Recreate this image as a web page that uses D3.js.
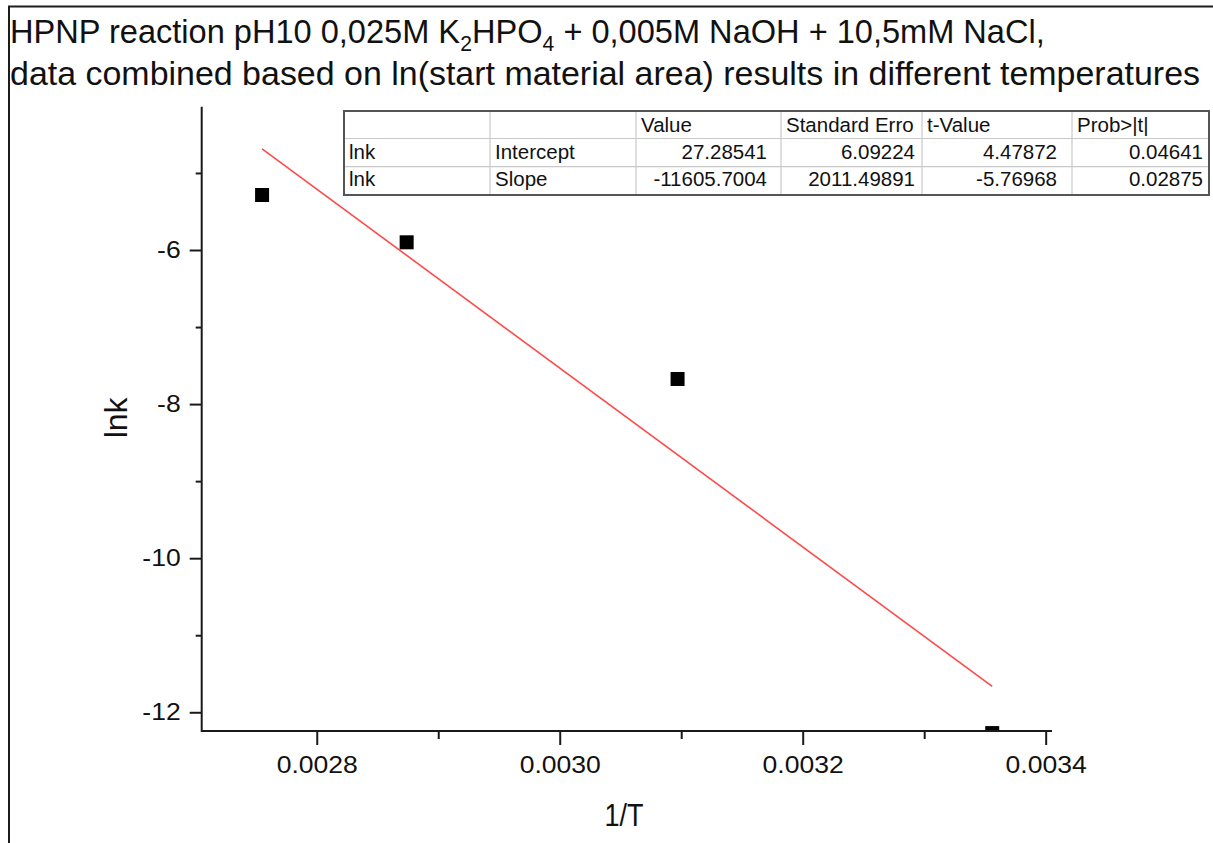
<!DOCTYPE html>
<html>
<head>
<meta charset="utf-8">
<script src="https://cdn.jsdelivr.net/npm/d3@7"></script>
<style>
  html, body { margin: 0; padding: 0; background: #fff; }
  svg { display: block; }
  text { font-family: "Liberation Sans", Arial, sans-serif; fill: #111; }
</style>
</head>
<body>
<svg id="chart" width="1213" height="843"></svg>
<script>
// Arrhenius data: 1/T (K^-1) against ln k
const invT = [0.002755, 0.002874, 0.003097, 0.003356];
const lnk = [-5.286, -5.90, -7.674, -12.27];

// Linear fit statistics: Value, Standard Error, t-Value, Prob>|t|
const statHeader = ["", "", "Value", "Standard Erro", "t-Value", "Prob>|t|"];
const interceptStats = [27.28541, 6.09224, 4.47872, 0.04641];
const slopeStats = [-11605.7004, 2011.49891, -5.76968, 0.02875];

// Axis ticks
const xMajor = [0.0028, 0.0030, 0.0032, 0.0034];
const xMinor = [0.0029, 0.0031, 0.0033];
const yMajor = [-6, -8, -10, -12];
const yMinor = [-5, -7, -9, -11];

// Title: first line as [text, isSubscript] pieces, second line plain
const titleLine1 = [
  ["HPNP reaction pH10 0,025M K", false], ["2", true], ["HPO", false], ["4", true],
  [" + 0,005M NaOH + 10,5mM NaCl,", false]
];
const titleLine2 = "data combined based on ln(start material area) results in different temperatures";

const svg = d3.select("#chart");
const plotLeft = 201.7, plotRight = 1052, plotTop = 106.7, plotBottom = 731;

const x = d3.scaleLinear().domain([0.0027053, 0.0034052]).range([plotLeft, plotRight]);
const y = d3.scaleLinear().domain([-12.243, -4.140]).range([plotBottom, plotTop]);

// window frame edges
svg.append("path")
  .attr("d", "M9,843 V6.5 H1213")
  .attr("fill", "none").attr("stroke", "#1c1c1c").attr("stroke-width", 2);

// title line 1: pieces laid out one after another, then fitted to width
const t1 = svg.append("g");
let cursor = 0;
titleLine1.forEach(([txt, sub]) => {
  const node = t1.append("text")
    .attr("x", cursor).attr("y", sub ? 51 : 43)
    .style("font-size", sub ? "22px" : "34px")
    .style("white-space", "pre")
    .text(txt).node();
  cursor += node.getComputedTextLength();
});
t1.attr("transform", `translate(10,0) scale(${1035 / cursor},1)`);

svg.append("text").attr("x", 10).attr("y", 85).style("font-size", "34px")
  .attr("textLength", 1190).attr("lengthAdjust", "spacingAndGlyphs")
  .text(titleLine2);

// clip region for plotted marks
svg.append("clipPath").attr("id", "plotClip")
  .append("rect").attr("x", plotLeft).attr("y", plotTop)
  .attr("width", plotRight - plotLeft).attr("height", plotBottom - plotTop);

const plot = svg.append("g").attr("clip-path", "url(#plotClip)");

// fitted line lnk = intercept + slope * (1/T)
const a = interceptStats[0], b = slopeStats[0];
const xFit = d3.extent(invT);
plot.append("line")
  .attr("x1", x(xFit[0])).attr("y1", y(a + b * xFit[0]))
  .attr("x2", x(xFit[1])).attr("y2", y(a + b * xFit[1]))
  .attr("stroke", "#ff4a4a").attr("stroke-width", 1.6);

// data points
const ms = 14;
plot.selectAll("rect.pt").data(invT.map((v, i) => [v, lnk[i]])).join("rect")
  .attr("class", "pt")
  .attr("x", d => x(d[0]) - ms / 2).attr("y", d => y(d[1]) - ms / 2)
  .attr("width", ms).attr("height", ms).attr("fill", "#000");

// axes
const axisColor = "#1a1a1a";
const stretch = 1.13;  // wide tick-label glyphs
function styleAxis(g) {
  g.select(".domain").remove();
  g.selectAll("line").attr("stroke", axisColor).attr("stroke-width", 2);
  g.selectAll("text").style("font-size", "23.5px").attr("fill", "#111");
}

svg.append("g").attr("transform", `translate(0,${plotBottom})`)
  .call(d3.axisBottom(x).tickValues(xMajor).tickSize(14).tickFormat(d3.format(".4f")))
  .call(styleAxis)
  .call(g => g.selectAll("text").attr("y", 42).attr("dy", null)
    .attr("transform", `scale(${stretch},1)`));
svg.append("g").attr("transform", `translate(0,${plotBottom})`)
  .call(d3.axisBottom(x).tickValues(xMinor).tickSize(8).tickFormat(""))
  .call(styleAxis);

svg.append("g").attr("transform", `translate(${plotLeft},0)`)
  .call(d3.axisLeft(y).tickValues(yMajor).tickSize(12).tickFormat(d => String(d)))
  .call(styleAxis)
  .call(g => g.selectAll("text").attr("x", -21 / stretch)
    .attr("transform", `scale(${stretch},1)`));
svg.append("g").attr("transform", `translate(${plotLeft},0)`)
  .call(d3.axisLeft(y).tickValues(yMinor).tickSize(6).tickFormat(""))
  .call(styleAxis);

// axis lines
svg.append("path")
  .attr("d", `M${plotLeft},${plotTop} V${plotBottom} H${plotRight}`)
  .attr("fill", "none").attr("stroke", axisColor).attr("stroke-width", 2);

// axis titles
svg.append("text").attr("x", 624).attr("y", 826)
  .attr("text-anchor", "middle").style("font-size", "31px")
  .attr("textLength", 39).attr("lengthAdjust", "spacingAndGlyphs").text("1/T");
svg.append("text").attr("transform", `translate(127,${(plotTop + plotBottom) / 2 - 1}) rotate(-90)`)
  .attr("text-anchor", "middle").style("font-size", "32px").text("lnk");

// statistics table
const colX = [344, 490, 636, 781, 922, 1072, 1209];
const rowY = [111, 138.5, 166.7, 195];
const numPad = [14, 7, 15, 6];
const tbl = svg.append("g");
const tableRows = [
  statHeader,
  ["lnk", "Intercept", ...interceptStats.map(String)],
  ["lnk", "Slope", ...slopeStats.map(String)]
];
// inner grid
colX.slice(1, -1).forEach(cx => tbl.append("line")
  .attr("x1", cx).attr("x2", cx).attr("y1", rowY[0]).attr("y2", rowY[3])
  .attr("stroke", "#c8c8c8").attr("stroke-width", 1.2));
rowY.slice(1, -1).forEach(ry => tbl.append("line")
  .attr("x1", colX[0]).attr("x2", colX[6]).attr("y1", ry).attr("y2", ry)
  .attr("stroke", "#c8c8c8").attr("stroke-width", 1.2));
tbl.append("rect")
  .attr("x", colX[0]).attr("y", rowY[0])
  .attr("width", colX[6] - colX[0]).attr("height", rowY[3] - rowY[0])
  .attr("fill", "none").attr("stroke", "#555").attr("stroke-width", 2);

const baseOff = [20.5, 20, 19.5];
tableRows.forEach((row, ri) => {
  row.forEach((cell, ci) => {
    if (!cell) return;
    const numeric = ri > 0 && ci >= 2;
    tbl.append("text")
      .attr("x", numeric ? colX[ci + 1] - numPad[ci - 2] : colX[ci] + 5)
      .attr("y", rowY[ri] + baseOff[ri])
      .attr("text-anchor", numeric ? "end" : "start")
      .style("font-size", "20.5px")
      .text(cell);
  });
});
</script>
</body>
</html>
